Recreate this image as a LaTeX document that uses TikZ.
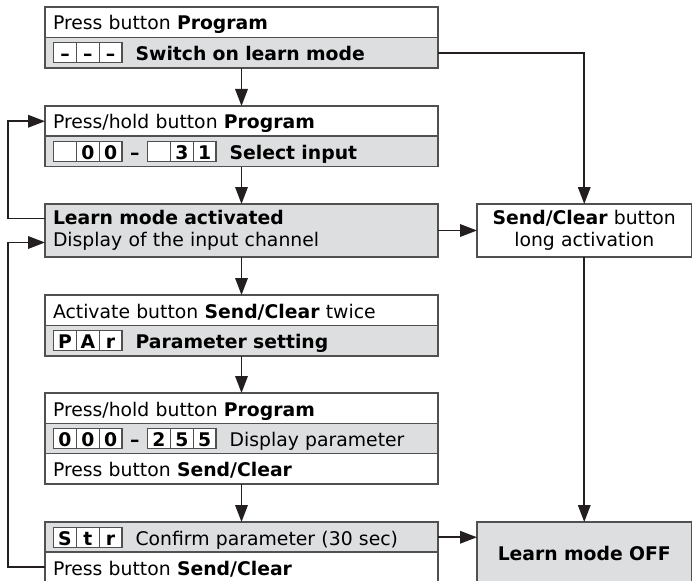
\documentclass[tikz,border=0pt]{standalone}
\usepackage{fontspec}
\setmainfont{DejaVu Sans}
\usetikzlibrary{positioning}
\usetikzlibrary{arrows.meta,calc}
\definecolor{boxgray}{RGB}{221,222,223}
\definecolor{framegray}{RGB}{80,80,80}
\definecolor{arrowblack}{RGB}{35,31,32}
\tikzset{
    %Define standard arrow tip
    >={Triangle[length=17pt,width=12.5pt]},
    % Define arrow style
    pil/.style={
           ->,
           color=arrowblack,
           line width=1.8pt,}
}
\newcommand{\rowheight}{30.5pt}
% display cells
\setlength{\fboxsep}{0pt}
\setlength{\fboxrule}{1.2pt}
\newcommand{\cell}[1]{\fcolorbox{framegray}{white}{\makebox[21.6pt]{\rule[-1.55pt]{0pt}{18.6pt}\textbf{#1}}}}
\newcommand{\cells}[3]{\cell{#1}\kern-1.2pt\cell{#2}\kern-1.2pt\cell{#3}}

\begin{document}
\begin{tikzpicture}[x=1pt, y=-1pt, outer sep=0pt, font=\fontsize{18.8pt}{22pt}\selectfont]
\tikzstyle{whiterow}=[draw=framegray, fill=white, rectangle, line width=1.3pt,
    minimum height=\rowheight, text width=377pt, inner xsep=8pt, inner ysep=0pt,
    text height=20pt, text depth=4.5pt, anchor=north west, align=left]
%
\tikzstyle{grayrow}=[whiterow, fill=boxgray]
%
\tikzstyle{graybox}=[draw=framegray, fill=boxgray, rectangle, line width=1.3pt,
    minimum height=53pt, text width=377pt, inner xsep=8pt, anchor=north west, align=left]
%
\tikzstyle{sidebox}=[draw=framegray, fill=white, rectangle, line width=1.3pt,
    minimum height=53pt, minimum width=214.5pt, text width=200pt, anchor=north west, align=center]

\useasboundingbox (0,0) rectangle (692,580);

\node[whiterow] (press1) at (45,7) {Press button \textbf{Program}};
\node[grayrow] (learnon) at (45,37.5) {\cells{--}{--}{--}\hspace{13pt}\textbf{Switch on learn mode}};

\node[whiterow] (hold1) at (45,106) {Press/hold button \textbf{Program}};
\node[grayrow] (select) at (45,136) {\cells{}{0}{0}\hspace{7.5pt}\textbf{--}\hspace{7.5pt}\cells{}{3}{1}\hspace{13pt}\textbf{Select input}};

\node[graybox] (active) at (45,204) {\textbf{Learn mode activated}\\ Display of the input channel};

\node[whiterow] (twice) at (45,295) {Activate button \textbf{Send/Clear} twice};
\node[grayrow] (param) at (45,325.5) {\cells{P}{A}{r}\hspace{13pt}\textbf{Parameter setting}};

\node[whiterow] (hold2) at (45,393) {Press/hold button \textbf{Program}};
\node[grayrow] (display) at (45,423.5) {\cells{0}{0}{0}\hspace{7.5pt}\textbf{--}\hspace{7.5pt}\cells{2}{5}{5}\hspace{13pt}Display parameter};
\node[whiterow] (press2) at (45,453.5) {Press button \textbf{Send/Clear}};

\node[grayrow] (confirm) at (45,522) {\cells{S}{t}{r}\hspace{13pt}Confirm parameter (30 sec)};
\node[whiterow] (press3) at (45,552) {Press button \textbf{Send/Clear}};

\node[sidebox] (sendclear) at (477,204) {\textbf{Send/Clear} button\\ long activation};
\node[sidebox, fill=boxgray, minimum height=63pt] (off) at (477,522) {\textbf{Learn mode OFF}};

\path[pil] (learnon.south) edge (hold1.north);
\path[pil] (select.south) edge (active.north);
\path[pil] (active.south) edge (twice.north);
\path[pil] (param.south) edge (hold2.north);
\path[pil] (press2.south) edge (confirm.north);

\draw[pil] (learnon.east) -| (sendclear.north);
\draw[pil] (active.east) -- (sendclear.west);
\draw[pil] (sendclear.south) -- (off.north);
\draw[pil] (confirm.east) -- (confirm.east -| off.west);

\draw[pil] ([yshift=12pt]active.west) -- ++(-37,0) |- (hold1.west);
\draw[pil] (press3.west) -- ++(-37,0) |- ([yshift=-12pt]active.west);

\end{tikzpicture}
\end{document}
